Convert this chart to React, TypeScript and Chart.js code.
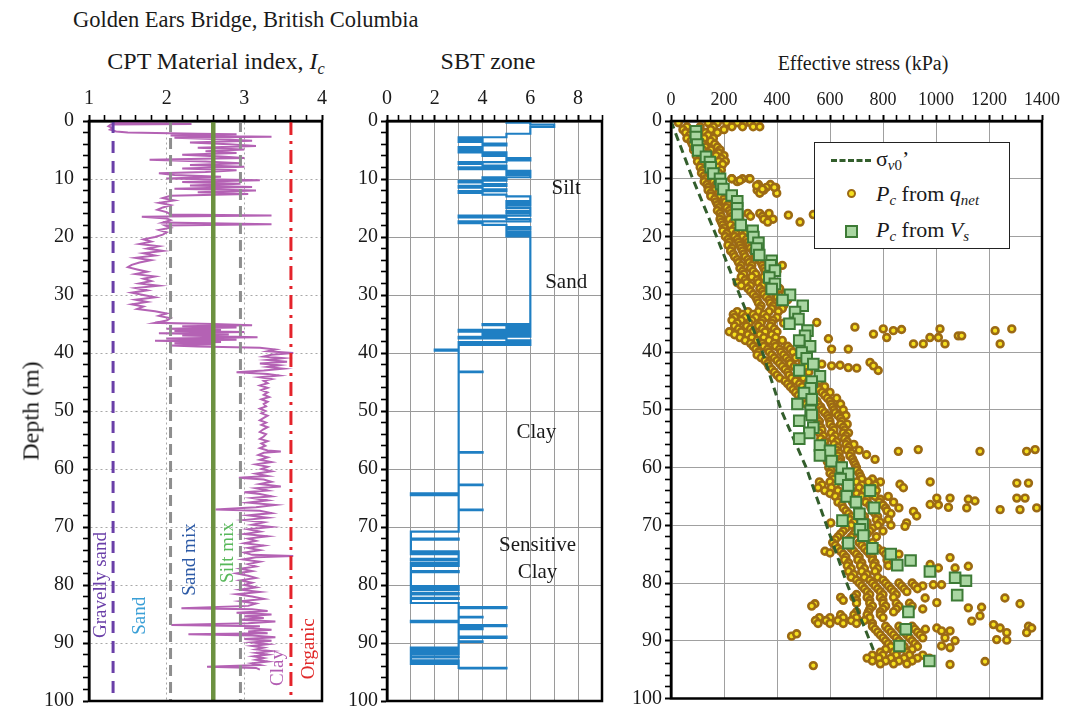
import React, { useEffect, useRef } from 'react';
import { Chart, registerables } from 'chart.js';

Chart.register(...registerables);

const SERIF = '"Liberation Serif", "Times New Roman", "DejaVu Serif", serif';

// ---------------- Panel 1: CPT material index Ic ----------------
// [depth (m), Ic]
const IC_TRACE: [number, number][] = [
  [0.3, 1.32], [0.5, 2.32], [0.6, 1.28], [0.9, 1.25], [1.2, 1.3], [1.5, 1.27], [1.8, 1.35], [2.0, 1.5],
  [2.2, 2.4], [2.3, 2.9], [2.5, 2.05], [2.7, 3.35], [2.9, 2.1], [3.1, 2.6],
  [3.4, 3.1], [3.7, 2.3], [4.0, 2.8], [4.3, 3.15], [4.6, 2.4], [4.9, 3.0], [5.2, 2.5], [5.5, 2.9],
  [5.8, 2.2], [6.1, 2.7], [6.4, 3.0], [6.7, 1.78], [7.0, 2.5], [7.3, 2.95], [7.6, 2.3], [7.9, 3.0],
  [8.2, 2.2], [8.5, 2.9], [8.8, 2.5], [9.0, 1.9],
  [9.3, 2.1], [9.6, 2.7], [9.9, 2.0], [10.2, 3.2], [10.5, 2.2], [10.8, 2.95], [11.1, 2.3], [11.4, 3.1],
  [11.7, 2.1], [12.0, 3.15], [12.3, 2.4], [12.6, 3.05], [12.9, 2.05],
  [13.3, 1.95], [13.7, 2.1], [14.1, 1.9], [14.5, 2.05], [14.9, 1.95], [15.3, 1.88], [15.7, 2.0], [16.1, 2.05],
  [16.3, 3.35], [16.5, 1.68], [16.8, 2.0], [17.1, 2.05], [17.5, 1.95], [17.8, 3.35], [18.0, 1.98], [18.4, 2.05],
  [18.8, 1.9], [19.2, 2.0], [19.6, 1.95], [20.0, 1.85],
  [20.4, 1.7], [20.8, 1.8], [21.2, 1.65], [21.6, 1.9], [22.0, 1.75], [22.4, 1.95], [22.8, 1.7], [23.2, 1.85],
  [23.6, 1.6], [24.0, 1.8], [24.4, 1.65], [24.8, 1.55], [25.2, 1.5], [25.6, 1.62], [26.0, 1.75], [26.4, 1.6],
  [26.8, 1.85], [27.2, 1.7], [27.6, 1.8], [28.0, 1.65], [28.4, 1.9], [28.8, 1.6], [29.2, 1.75], [29.6, 1.55],
  [30.0, 1.7], [30.4, 1.85], [30.8, 1.6], [31.2, 1.75], [31.6, 1.55], [32.0, 1.7], [32.4, 1.62], [32.8, 1.85],
  [33.2, 2.0], [33.6, 1.9], [34.0, 2.05], [34.4, 2.0], [34.8, 1.85],
  [35.0, 2.6], [35.2, 3.1], [35.4, 2.2], [35.6, 2.9], [35.8, 2.0], [36.0, 2.7], [36.2, 2.1], [36.4, 3.0],
  [36.6, 1.9], [36.8, 2.8], [37.0, 2.2], [37.3, 3.17], [37.5, 2.0], [37.7, 2.9], [37.9, 1.85], [38.1, 2.7],
  [38.3, 2.1], [38.5, 2.6], [38.7, 2.05], [38.9, 2.4],
  [39.1, 3.2], [39.4, 3.4], [39.7, 3.3], [40.0, 3.63], [40.3, 3.35], [40.6, 3.25], [40.9, 3.5], [41.2, 3.3],
  [41.5, 3.55], [41.8, 3.2], [42.1, 3.45], [42.4, 3.3], [42.7, 3.5], [43.0, 3.25], [43.3, 2.9], [43.6, 3.3],
  [43.9, 3.45], [44.2, 3.2], [44.5, 3.35], [44.8, 3.25], [45.2, 3.3], [45.6, 3.2], [46.0, 3.3], [46.4, 3.22],
  [46.8, 3.3], [47.2, 3.25], [47.6, 3.32], [48.0, 3.22], [48.4, 3.3], [48.8, 3.25], [49.2, 3.28], [49.6, 3.2],
  [50.0, 3.27], [50.4, 3.22], [50.8, 3.3], [51.2, 3.25], [51.6, 3.2], [52.0, 3.28], [52.4, 3.22], [52.8, 3.3],
  [53.2, 3.24], [53.6, 3.2], [54.0, 3.28], [54.4, 3.25], [54.8, 3.2], [55.2, 3.3], [55.6, 3.22], [56.0, 3.27],
  [56.4, 3.2], [56.8, 3.3], [57.0, 3.47], [57.2, 3.25], [57.6, 3.18], [58.0, 3.3], [58.4, 3.2], [58.8, 3.35],
  [59.2, 3.15], [59.6, 3.3],
  [60.0, 3.22], [60.4, 3.35], [60.8, 3.15], [61.2, 3.3], [61.5, 2.93], [61.8, 3.25], [62.2, 3.35], [62.6, 3.2],
  [63.0, 3.47], [63.3, 3.15], [63.7, 3.3], [64.0, 3.0], [64.3, 3.2], [64.7, 3.35], [65.0, 3.1], [65.4, 3.3],
  [65.8, 3.05], [66.2, 3.4], [66.6, 3.15], [67.0, 2.63], [67.2, 3.2], [67.6, 3.35], [68.0, 3.05], [68.4, 3.3],
  [68.8, 3.0], [69.2, 3.25], [69.6, 3.1], [70.0, 3.35],
  [70.4, 3.05], [70.8, 3.2], [71.2, 3.0], [71.6, 3.3], [72.0, 3.05], [72.4, 3.15], [72.8, 3.0], [73.2, 3.25],
  [73.6, 3.05], [74.0, 3.2], [74.4, 3.0], [74.8, 3.1], [75.0, 3.63], [75.2, 3.15], [75.6, 2.98], [76.0, 3.2],
  [76.4, 3.05], [76.8, 3.15], [77.2, 2.95], [77.6, 3.1], [78.0, 2.9], [78.4, 3.05], [78.8, 3.15], [79.2, 2.95],
  [79.6, 3.1], [80.0, 3.0],
  [80.4, 3.15], [80.8, 2.95], [81.2, 3.2], [81.6, 2.9], [82.0, 3.1], [82.4, 3.25], [82.8, 2.95], [83.2, 3.15],
  [83.6, 3.05], [84.0, 2.19], [84.2, 3.1], [84.5, 3.3], [84.8, 2.9], [85.1, 3.35], [85.4, 3.0], [85.7, 3.25],
  [86.0, 2.95], [86.3, 3.4], [86.6, 3.05], [86.9, 2.06], [87.1, 3.2], [87.4, 3.0], [87.7, 3.35], [88.0, 3.05],
  [88.3, 3.3], [88.5, 2.28], [88.7, 3.1], [89.0, 3.4], [89.3, 3.0], [89.6, 3.35], [89.9, 3.1],
  [90.2, 3.3], [90.5, 3.1], [90.8, 3.25], [91.1, 3.15], [91.4, 3.35], [91.7, 3.15], [92.0, 3.3], [92.3, 3.12],
  [92.6, 3.25], [92.9, 3.15], [93.2, 3.3], [93.5, 3.1], [93.8, 3.2], [94.1, 2.52], [94.3, 3.15], [94.6, 3.2],
];

// Ic soil-behaviour boundaries
const IC_BOUNDS = [1.31, 2.05, 2.6, 2.95, 3.6];

// Rotated zone names in panel 1
const IC_ZONE_NAMES = ['Gravelly sand', 'Sand', 'Sand mix', 'Silt mix', 'Clay', 'Organic'];
const IC_ZONE_X = [1.16, 1.66, 2.3, 2.79, 3.44, 3.83];
const IC_ZONE_DEPTH = [80, 85.3, 75.6, 74.4, 94.3, 91];

// ---------------- Panel 2: SBT zone ----------------
// [depth (m), zone] — zone changes along the profile
const SBT_PROFILE: [number, number][] = [
  [0.2, 5], [0.3, 6], [0.6, 7], [1.0, 6], [2.2, 5], [2.8, 3], [3.0, 4], [3.3, 3], [3.6, 4], [3.9, 5],
  [4.2, 4], [4.5, 3], [4.8, 4], [5.1, 3], [5.4, 5], [5.7, 4], [6.0, 5], [6.4, 6], [6.8, 5], [7.1, 3],
  [7.4, 4], [7.7, 5], [8.0, 3], [8.3, 5], [8.6, 6], [9.0, 5], [9.3, 6], [9.7, 4], [10.0, 5], [10.3, 3],
  [10.6, 4], [10.9, 5], [11.2, 3], [11.5, 4], [11.8, 5], [12.1, 3], [12.4, 4], [12.7, 5], [13.0, 6], [13.8, 5],
  [14.2, 6], [14.6, 5], [15.0, 6], [15.5, 5], [15.9, 6], [16.3, 3], [16.6, 5], [16.9, 6], [17.3, 3], [17.6, 4],
  [17.9, 5], [18.3, 6], [18.7, 5], [19.1, 6], [19.5, 5], [19.9, 6],
  [35.0, 4], [35.2, 6], [35.5, 5], [35.8, 6], [36.0, 3], [36.3, 6], [36.6, 4], [36.9, 6], [37.2, 3], [37.5, 5],
  [37.8, 6], [38.1, 3], [38.4, 6], [38.6, 3], [39.4, 2], [39.6, 3], [43.2, 4], [43.3, 3],
  [57.1, 4], [57.2, 3], [62.7, 4], [62.8, 3], [64.2, 1], [64.5, 3], [67.0, 4], [67.1, 3],
  [70.8, 1], [72.0, 3], [72.2, 1], [74.2, 3], [74.4, 1], [74.7, 3], [75.5, 1], [75.7, 3], [76.2, 1], [76.5, 3],
  [76.7, 1], [77.6, 3], [77.8, 1], [80.2, 3], [80.4, 1], [80.7, 3], [80.9, 1], [81.4, 3], [81.6, 1], [82.2, 3],
  [82.4, 1], [83.1, 3], [83.8, 5], [84.0, 3], [85.5, 4], [85.6, 3], [86.2, 1], [86.4, 3], [86.9, 5], [87.1, 3],
  [87.4, 4], [87.6, 3], [88.9, 5], [89.1, 3], [89.7, 4], [89.8, 3], [90.8, 1], [91.0, 3], [91.3, 1], [91.6, 3],
  [91.9, 1], [92.3, 3], [92.5, 1], [93.0, 3], [93.2, 1], [93.6, 3], [94.3, 5], [94.4, 3],
];

const SBT_NAMES = ['Silt', 'Sand', 'Clay', 'Sensitive', 'Clay'];
const SBT_NAME_X = [7.5, 7.5, 6.25, 6.3, 6.3];
const SBT_NAME_DEPTH = [11.6, 27.8, 53.7, 73.2, 77.9];

// ---------------- Panel 3: effective stress ----------------
const SIGMA_DEPTH = [0, 10, 20, 30, 40, 50, 60, 70, 80, 91.6];
const SIGMA_VALUE = [0, 82, 172, 258, 345, 415, 510, 587, 663, 764];

// rows: [depth, Pc values (kPa) ...]  Pc from q_net, main band
const QNET_ROWS: number[][] = [
  [0.3, 28, 140, 175, 210, 250, 280, 300, 325], [1.0, 60, 110, 160, 230, 270, 310, 335], [1.5, 45, 95, 150, 200],
  [2, 55, 90, 130, 175], [2.5, 70, 100, 140], [3, 60, 95, 125, 160], [3.5, 75, 110, 150], [4, 80, 120, 165],
  [4.5, 90, 130, 175], [5, 85, 120, 150, 185], [5.5, 100, 140, 180], [6, 95, 130, 170, 200], [6.5, 110, 150, 190],
  [7, 100, 140, 180, 205], [7.5, 115, 150, 195], [8, 110, 145, 175], [8.5, 120, 160, 190], [9, 115, 150, 180],
  [9.5, 125, 160], [10, 130, 165, 230, 270, 295], [10.5, 125, 160, 250], [11, 135, 170, 330, 375],
  [11.5, 140, 175, 360, 395], [12, 140, 165, 325, 350], [12.5, 150, 180, 335], [13, 150, 185, 215],
  [13.5, 165, 200, 235], [14, 170, 205, 240], [14.5, 175, 215, 245], [15, 180, 210, 250], [15.5, 175, 220, 250],
  [16, 185, 225, 255, 290, 335, 370], [16.5, 190, 230, 260, 300, 345], [17, 185, 220, 255, 350, 385],
  [17.5, 190, 235, 265, 365], [18, 195, 225, 260], [18.5, 200, 240, 275], [19, 195, 230, 265, 290],
  [19.5, 210, 245, 280], [20, 205, 240, 270, 300], [20.5, 215, 250, 285], [21, 220, 255, 290],
  [21.5, 215, 260, 295], [22, 230, 265, 300], [22.5, 225, 270, 310], [23, 235, 275, 315], [23.5, 240, 280, 320],
  [24, 250, 290, 330], [24.5, 255, 295, 340], [25, 265, 305, 345, 380, 420], [25.5, 260, 300, 350, 395],
  [26, 270, 310, 355, 400], [26.5, 275, 320, 360], [27, 265, 305, 350], [27.5, 280, 325, 365],
  [28, 250, 285, 330, 370], [28.5, 265, 300, 345], [29, 290, 335, 375, 410], [29.5, 300, 345, 390],
  [30, 310, 350, 395, 430], [30.5, 320, 360, 400], [31, 325, 370, 410, 440], [31.5, 330, 375, 415],
  [32, 340, 385, 425], [32.5, 335, 380, 420], [33, 250, 290, 330, 370, 405], [33.5, 235, 270, 310, 350],
  [34, 240, 280, 320, 360, 400], [34.5, 230, 265, 305, 345, 385], [35, 250, 295, 340, 380, 425],
  [35.5, 240, 285, 330, 375], [36, 255, 300, 345, 390], [36.5, 220, 265, 310, 355, 400], [37, 240, 290, 335, 380],
  [37.5, 260, 305, 350, 395], [38, 280, 325, 370, 420], [38.5, 300, 345, 390], [39, 310, 350, 395, 440],
  [39.5, 320, 365, 410, 450], [40, 330, 370, 415, 460], [40.5, 325, 380, 425], [41, 340, 390, 435, 470],
  [41.5, 355, 400, 445], [42, 365, 410, 450, 495, 540], [42.5, 370, 420, 465, 510], [43, 380, 430, 475],
  [43.5, 390, 440, 480, 520], [44, 400, 445, 490], [44.5, 410, 455, 500], [45, 430, 470, 520, 560],
  [45.5, 440, 485, 530], [46, 450, 495, 545, 580], [46.5, 460, 510, 560], [47, 470, 520, 570, 600],
  [47.5, 480, 530, 580], [48, 490, 540, 590, 625], [48.5, 500, 550, 600], [49, 510, 555, 605, 640],
  [49.5, 520, 565, 610], [50, 530, 570, 615, 650], [50.5, 540, 580, 620], [51, 545, 590, 630, 660],
  [51.5, 550, 595, 640], [52, 560, 600, 645], [52.5, 555, 600, 640, 665], [53, 565, 610, 650],
  [53.5, 570, 615, 655], [54, 560, 605, 650, 670], [54.5, 575, 620, 660], [55, 565, 610, 655],
  [55.5, 580, 625, 665], [56, 570, 615, 660, 690], [56.5, 585, 630, 670], [57, 580, 625, 665, 710],
  [57.5, 590, 635, 680], [58, 585, 630, 675], [58.5, 595, 640, 685], [59, 590, 640, 690], [59.5, 600, 645, 695],
  [60, 595, 645, 700], [60.5, 605, 650, 700], [61, 600, 655, 710], [61.5, 610, 660, 715], [62, 615, 665, 720, 760],
  [62.5, 560, 600, 650, 700, 745, 790], [63, 570, 620, 670, 720, 770], [63.5, 555, 605, 660, 710, 760],
  [64, 580, 630, 680, 730, 775], [64.5, 600, 650, 700, 750], [65, 620, 670, 720, 770, 820],
  [65.5, 640, 690, 740, 790], [66, 630, 685, 735, 785, 840], [66.5, 645, 700, 750, 800],
  [67, 650, 705, 755, 810, 860], [67.5, 660, 710, 760, 815], [68, 670, 720, 770, 830], [68.5, 680, 730, 780],
  [69, 675, 725, 775, 820], [69.5, 690, 740, 790], [70, 680, 730, 780, 830], [70.5, 660, 710, 760],
  [71, 650, 700, 750, 800], [71.5, 640, 690, 740], [72, 630, 680, 730, 775], [72.5, 620, 670, 720],
  [73, 610, 660, 710, 760], [73.5, 620, 670, 720], [74, 630, 680, 730, 780], [74.5, 640, 690, 740, 800],
  [75, 650, 700, 750, 810, 860], [75.5, 660, 710, 760, 820], [76, 655, 705, 760, 815], [76.5, 670, 720, 770],
  [77, 665, 715, 765, 820], [77.5, 680, 730, 780], [78, 670, 720, 770], [78.5, 690, 740], [79, 680, 730, 780],
  [79.5, 700, 750, 800], [80, 710, 760, 810, 860, 910], [80.5, 720, 770, 820, 870, 920, 950],
  [81, 730, 780, 830, 880, 930], [81.5, 740, 790, 840, 890], [82, 700, 750, 800, 850],
  [82.5, 640, 690, 740, 790, 840], [83, 650, 700, 750, 800], [83.5, 700, 750, 800, 850, 900],
  [84, 760, 810, 860, 910], [84.5, 750, 800, 850, 900, 950], [85, 700, 745, 790, 840, 890],
  [85.5, 640, 690, 740, 790], [86, 560, 600, 650, 700, 750, 800], [86.5, 545, 585, 630, 680, 730],
  [87, 555, 600, 650, 700, 760], [87.5, 760, 810, 860, 910], [88, 770, 820, 870, 920, 960],
  [88.5, 780, 830, 880, 930], [89, 790, 840, 890, 940], [89.5, 800, 850, 900, 950], [90, 810, 860, 910],
  [90.5, 820, 870, 920], [91, 830, 880, 930], [91.5, 810, 860, 910], [92, 790, 840, 890],
  [92.5, 760, 800, 850, 900, 950], [93, 740, 785, 830, 880, 930, 975], [93.5, 760, 810, 860, 910],
  [94, 790, 840, 890],
];

// [depth, Pc] scattered Pc from q_net values
const QNET_OUTLIERS: [number, number][] = [
  [10, 229], [10.3, 260], [10, 298], [11.2, 323], [11.8, 345], [12.5, 399], [11.5, 390],
  [16.3, 443], [17.5, 487], [16.2, 537],
  [34.9, 550], [35.7, 694], [36.9, 764], [36, 801], [37.5, 814], [36.3, 839], [36.1, 870], [38.6, 915],
  [38.6, 952], [37.5, 977], [36, 1015], [37.5, 1009], [38.6, 1034], [37.2, 1084], [37.2, 1097], [36.3, 1223],
  [38.6, 1242], [36, 1286], [37.7, 594], [39.5, 606], [39.5, 669],
  [42.1, 569], [42.4, 606], [42.3, 638], [42.7, 669], [42.8, 701], [41.8, 751], [43.2, 782], [42.4, 764],
  [57.8, 738], [58.6, 770], [57.2, 858], [56.9, 933], [57.2, 1166], [57.2, 1342], [56.9, 1374],
  [62.5, 978], [62.9, 864], [63.5, 877], [65.3, 1003], [66.4, 978], [66.5, 1009], [65.3, 1053], [66.9, 1047],
  [67, 1116], [65.5, 1122], [65.8, 1147], [67.3, 1242], [62.7, 1305], [62.7, 1349], [65.3, 1305], [65.3, 1336],
  [67.3, 1317], [67, 1380], [67.6, 915], [68.4, 927], [69.6, 889], [70.2, 883], [69.6, 603],
  [74.5, 581], [74.8, 600], [76.8, 978], [77.4, 1009], [75.6, 1053], [77.4, 1072], [77.1, 1122],
  [80.3, 990], [80.3, 1021], [82.6, 959], [83.4, 1003], [82.6, 1260], [83.6, 1317], [84.3, 1122], [84.2, 1172],
  [86.6, 1135], [85.7, 1166],
  [87.8, 1003], [88.3, 1021], [89.5, 1034], [88.3, 1053], [90, 1072], [87.2, 1217], [87.8, 1242], [88.6, 1267],
  [89.8, 1229], [89.9, 1267], [87.5, 1349], [87.8, 1361], [88.6, 1342], [90.9, 1021], [91.2, 1053],
  [89.2, 455], [88.8, 474], [94.3, 537], [94.1, 1053], [93.6, 1185], [83.6, 543], [84, 531],
];

// [depth, Pc] Pc from Vs
const VS_POINTS: [number, number][] = [
  [1.8, 94], [2.8, 94], [4.1, 99], [5.1, 103], [6.2, 132], [7.1, 147], [8.0, 150], [9.1, 160], [10.0, 185],
  [10.9, 189], [11.8, 198], [12.9, 229], [13.9, 250], [15.1, 250], [16.2, 250], [18.0, 263], [19.0, 308],
  [20.1, 311], [21.1, 330], [22.1, 323], [23.2, 333], [24.2, 380], [25.0, 376], [25.9, 392], [27.1, 371],
  [28.2, 392], [29.1, 380], [30.1, 449], [31.0, 421], [32.0, 497], [33.1, 468], [34.3, 481], [35.1, 447],
  [36.3, 515], [37.2, 506], [38.0, 484], [39.0, 525], [40.1, 493], [41.1, 512], [42.1, 537], [43.2, 484],
  [44.2, 562], [45.1, 531], [46.3, 527], [47.1, 502], [48.2, 531], [49.0, 477], [50.2, 527], [50.9, 531],
  [51.9, 484], [53.1, 537], [54.0, 522], [55.0, 484], [56.2, 562], [57.1, 600], [57.9, 562], [58.9, 606],
  [60.0, 644], [61.1, 669], [62.0, 640], [63.1, 669], [64.0, 751], [65.0, 663], [66.0, 698], [67.0, 766],
  [68.0, 711], [69.2, 647], [69.9, 723], [70.7, 713], [71.8, 726], [73.1, 669], [74.0, 760], [75.0, 829],
  [76.1, 904], [76.9, 854], [78.0, 977], [79.1, 1072], [79.6, 1113], [82.1, 1080], [85.0, 896], [88.0, 886],
  [90.9, 862], [93.5, 975],
];

// ---------------- helpers ----------------
const near = (v: number, m: number) => Math.abs(v / m - Math.round(v / m)) < 1e-6;
const CLEAR = 'rgba(0,0,0,0)';

function depthAxis(width: number, gridColor: string, dash: number[], pad: number) {
  return {
    type: 'linear',
    reverse: true,
    min: 0,
    max: 100,
    afterFit: (s: any) => {
      s.width = width;
      s.paddingTop = 0;
      s.paddingBottom = 0;
    },
    ticks: {
      stepSize: 2,
      autoSkip: false,
      padding: pad,
      color: '#1a1a1a',
      font: { family: SERIF, size: 20 },
      callback: (v: number) => (near(v, 10) ? String(Math.round(v)) : ''),
    },
    grid: {
      color: (c: any) => (c.tick && near(c.tick.value, 10) ? gridColor : CLEAR),
      lineWidth: 1,
      tickColor: '#000',
      tickLength: 6,
      tickWidth: (c: any) => (c.tick && near(c.tick.value, 10) ? 2 : 1.6),
    },
    border: { display: true, color: '#000', width: 2.5, dash },
  };
}

function topAxis(
  min: number,
  max: number,
  step: number,
  labelEvery: number,
  gridAt: (v: number) => boolean,
  gridColor: string,
  dash: number[],
  fontSize: number,
) {
  return {
    type: 'linear',
    position: 'top',
    min,
    max,
    afterFit: (s: any) => {
      s.height = 41;
      s.paddingLeft = 0;
      s.paddingRight = 0;
    },
    ticks: {
      stepSize: step,
      autoSkip: false,
      maxRotation: 0,
      padding: 4,
      color: '#1a1a1a',
      font: { family: SERIF, size: fontSize },
      callback: (v: number) => (near(v, labelEvery) ? String(Math.round(v)) : ''),
    },
    grid: {
      color: (c: any) => (c.tick && gridAt(c.tick.value) ? gridColor : CLEAR),
      lineWidth: 1,
      tickColor: '#000',
      tickLength: 6,
      tickWidth: (c: any) => (c.tick && near(c.tick.value, labelEvery) ? 2 : 1.6),
    },
    border: { display: true, color: '#000', width: 2.5, dash },
  };
}

const framePlugin = {
  id: 'frame',
  afterDatasetsDraw(chart: any) {
    const { ctx, chartArea: a } = chart;
    ctx.save();
    ctx.strokeStyle = '#000';
    ctx.lineWidth = 2.5;
    ctx.strokeRect(a.left, a.top, a.right - a.left, a.bottom - a.top);
    ctx.restore();
  },
};

const BOUND_STYLES = [
  { color: '#6a3fa8', width: 3, dash: [12, 8] },
  { color: '#8e8e8e', width: 3, dash: [11, 6] },
  { color: '#6c9140', width: 4.5, dash: [] as number[] },
  { color: '#8e8e8e', width: 3, dash: [11, 6] },
  { color: '#e4232b', width: 3, dash: [14, 6, 3, 6] },
];
const IC_ZONE_COLORS = ['#6a3fa8', '#3a9fd6', '#2d5aa6', '#58b85a', '#b25cb2', '#e02a2a'];

const baseOptions = (padRight: number) => ({
  animation: false,
  responsive: false,
  maintainAspectRatio: false,
  events: [],
  layout: { padding: { left: 0, right: padRight, top: 0, bottom: 7 } },
  plugins: { legend: { display: false }, tooltip: { enabled: false }, title: { display: false } },
});

export default function App() {
  const c1 = useRef<HTMLCanvasElement>(null);
  const c2 = useRef<HTMLCanvasElement>(null);
  const c3 = useRef<HTMLCanvasElement>(null);

  useEffect(() => {
    const charts: Chart[] = [];

    // ---- panel 1 ----
    const zoneLabelPlugin = {
      id: 'zoneLabels',
      afterDatasetsDraw(chart: any) {
        const { ctx, scales } = chart;
        ctx.save();
        ctx.font = `19px ${SERIF}`;
        ctx.textAlign = 'center';
        ctx.textBaseline = 'middle';
        IC_ZONE_NAMES.forEach((t, i) => {
          const px = scales.x.getPixelForValue(IC_ZONE_X[i]);
          const py = scales.y.getPixelForValue(IC_ZONE_DEPTH[i]);
          ctx.save();
          ctx.translate(px, py);
          ctx.rotate(-Math.PI / 2);
          ctx.fillStyle = IC_ZONE_COLORS[i];
          ctx.fillText(t, 0, 0);
          ctx.restore();
        });
        ctx.restore();
      },
    };
    charts.push(
      new Chart(c1.current!, {
        type: 'scatter',
        data: {
          datasets: [
            {
              data: IC_TRACE.map(([d, v]) => ({ x: v, y: d })),
              showLine: true,
              borderColor: '#b462b4',
              borderWidth: 2,
              pointRadius: 0,
              order: 5,
            } as any,
            ...IC_BOUNDS.map((b, i) => ({
              data: [
                { x: b, y: 0 },
                { x: b, y: 100 },
              ],
              showLine: true,
              borderColor: BOUND_STYLES[i].color,
              borderWidth: BOUND_STYLES[i].width,
              borderDash: BOUND_STYLES[i].dash,
              pointRadius: 0,
              order: 1,
            })),
          ],
        },
        options: {
          ...baseOptions(13),
          scales: {
            x: topAxis(1, 4, 0.2, 1, (v) => near(v - 2, 1) && v > 1.5 && v < 3.5, '#a8a8a8', [2, 3], 20),
            y: depthAxis(89, '#a8a8a8', [2, 3], 9),
          },
        } as any,
        plugins: [framePlugin, zoneLabelPlugin],
      }),
    );

    // ---- panel 2 ----
    const sbtLabelPlugin = {
      id: 'sbtLabels',
      afterDatasetsDraw(chart: any) {
        const { ctx, scales } = chart;
        ctx.save();
        ctx.font = `21px ${SERIF}`;
        ctx.fillStyle = '#1a1a1a';
        ctx.textAlign = 'center';
        ctx.textBaseline = 'middle';
        SBT_NAMES.forEach((t, i) => {
          ctx.fillText(t, scales.x.getPixelForValue(SBT_NAME_X[i]), scales.y.getPixelForValue(SBT_NAME_DEPTH[i]));
        });
        ctx.restore();
      },
    };
    charts.push(
      new Chart(c2.current!, {
        type: 'scatter',
        data: {
          datasets: [
            {
              data: SBT_PROFILE.map(([d, z]) => ({ x: z, y: d })),
              showLine: true,
              stepped: 'after',
              borderColor: '#1f7fc3',
              borderWidth: 2.2,
              pointRadius: 0,
            } as any,
          ],
        },
        options: {
          ...baseOptions(13),
          scales: {
            x: topAxis(0, 9, 0.5, 2, (v) => near(v, 1), '#9a9a9a', [], 20),
            y: depthAxis(52, '#9a9a9a', [], 3),
          },
        } as any,
        plugins: [framePlugin, sbtLabelPlugin],
      }),
    );

    // ---- panel 3 ----
    const qnetPoints = QNET_ROWS.flatMap((row) => row.slice(1).map((v) => ({ x: v, y: row[0] }))).concat(
      QNET_OUTLIERS.map(([d, v]) => ({ x: v, y: d })),
    );
    charts.push(
      new Chart(c3.current!, {
        type: 'scatter',
        data: {
          datasets: [
            {
              data: qnetPoints,
              pointRadius: 3.4,
              pointBorderWidth: 2.6,
              pointBackgroundColor: '#f5e01e',
              pointBorderColor: '#9c6a14',
              order: 3,
            },
            {
              data: SIGMA_DEPTH.map((d, i) => ({ x: SIGMA_VALUE[i], y: d })),
              showLine: true,
              borderColor: '#335e2c',
              borderWidth: 3,
              borderDash: [8, 5],
              pointRadius: 0,
              order: 2,
            },
            {
              data: VS_POINTS.map(([d, v]) => ({ x: v, y: d })),
              pointStyle: 'rect',
              pointRadius: 7.5,
              pointBorderWidth: 2,
              pointBackgroundColor: '#a9d6a1',
              pointBorderColor: '#3d7b36',
              order: 1,
            },
          ] as any,
        },
        options: {
          ...baseOptions(25),
          scales: {
            x: topAxis(0, 1400, 50, 200, (v) => near(v, 200), '#a0a0a0', [], 18),
            y: depthAxis(56, '#a0a0a0', [], 3),
          },
        } as any,
        plugins: [framePlugin],
      }),
    );

    return () => charts.forEach((c) => c.destroy());
  }, []);

  const sub: React.CSSProperties = { fontSize: '0.68em', verticalAlign: '-0.28em', lineHeight: 0 };

  return (
    <div
      style={{
        position: 'absolute',
        left: 0,
        top: 0,
        width: 1067,
        height: 708,
        background: '#fff',
        overflow: 'hidden',
        fontFamily: SERIF,
        color: '#1a1a1a',
      }}
    >
      <canvas ref={c1} width={335} height={628} style={{ position: 'absolute', left: 0, top: 80, width: 335, height: 628 }} />
      <canvas ref={c2} width={280} height={628} style={{ position: 'absolute', left: 335, top: 80, width: 280, height: 628 }} />
      <canvas ref={c3} width={452} height={628} style={{ position: 'absolute', left: 615, top: 80, width: 452, height: 628 }} />

      <div style={{ position: 'absolute', left: 73, top: 7, fontSize: 22.5, whiteSpace: 'nowrap' }}>
        Golden Ears Bridge, British Columbia
      </div>
      <div
        style={{ position: 'absolute', left: 216, top: 48, fontSize: 24, whiteSpace: 'nowrap', transform: 'translateX(-50%)' }}
      >
        CPT Material index, <i>I</i>
        <i style={sub}>c</i>
      </div>
      <div
        style={{ position: 'absolute', left: 488, top: 48, fontSize: 24, whiteSpace: 'nowrap', transform: 'translateX(-50%)' }}
      >
        SBT zone
      </div>
      <div
        style={{ position: 'absolute', left: 863, top: 52, fontSize: 20, whiteSpace: 'nowrap', transform: 'translateX(-50%)' }}
      >
        Effective stress (kPa)
      </div>
      <div
        style={{
          position: 'absolute',
          left: 31,
          top: 411,
          fontSize: 24,
          whiteSpace: 'nowrap',
          transform: 'translate(-50%, -50%) rotate(-90deg)',
        }}
      >
        Depth (m)
      </div>

      {/* legend */}
      <div
        style={{
          position: 'absolute',
          left: 814,
          top: 142,
          width: 196,
          height: 107,
          border: '1.5px solid #222',
          background: '#fff',
          boxSizing: 'border-box',
          fontSize: 22,
        }}
      >
        <div style={{ position: 'absolute', left: 16, top: 16, width: 40, borderTop: '3px dashed #335e2c' }} />
        <div style={{ position: 'absolute', left: 61, top: 3, whiteSpace: 'nowrap', lineHeight: '26px' }}>
          σ<span style={sub}>
            <i>v</i>0
          </span>
          ’
        </div>
        <div
          style={{
            position: 'absolute',
            left: 32,
            top: 46,
            width: 5,
            height: 5,
            borderRadius: '50%',
            background: '#f5e01e',
            border: '2.5px solid #9c6a14',
          }}
        />
        <div style={{ position: 'absolute', left: 61, top: 38, whiteSpace: 'nowrap', lineHeight: '26px' }}>
          <i>P</i>
          <i style={sub}>c</i> from <i>q</i>
          <i style={sub}>net</i>
        </div>
        <div
          style={{
            position: 'absolute',
            left: 30,
            top: 82,
            width: 9,
            height: 9,
            background: '#a9d6a1',
            border: '2px solid #3d7b36',
          }}
        />
        <div style={{ position: 'absolute', left: 61, top: 74, whiteSpace: 'nowrap', lineHeight: '26px' }}>
          <i>P</i>
          <i style={sub}>c</i> from <i>V</i>
          <i style={sub}>s</i>
        </div>
      </div>
    </div>
  );
}
